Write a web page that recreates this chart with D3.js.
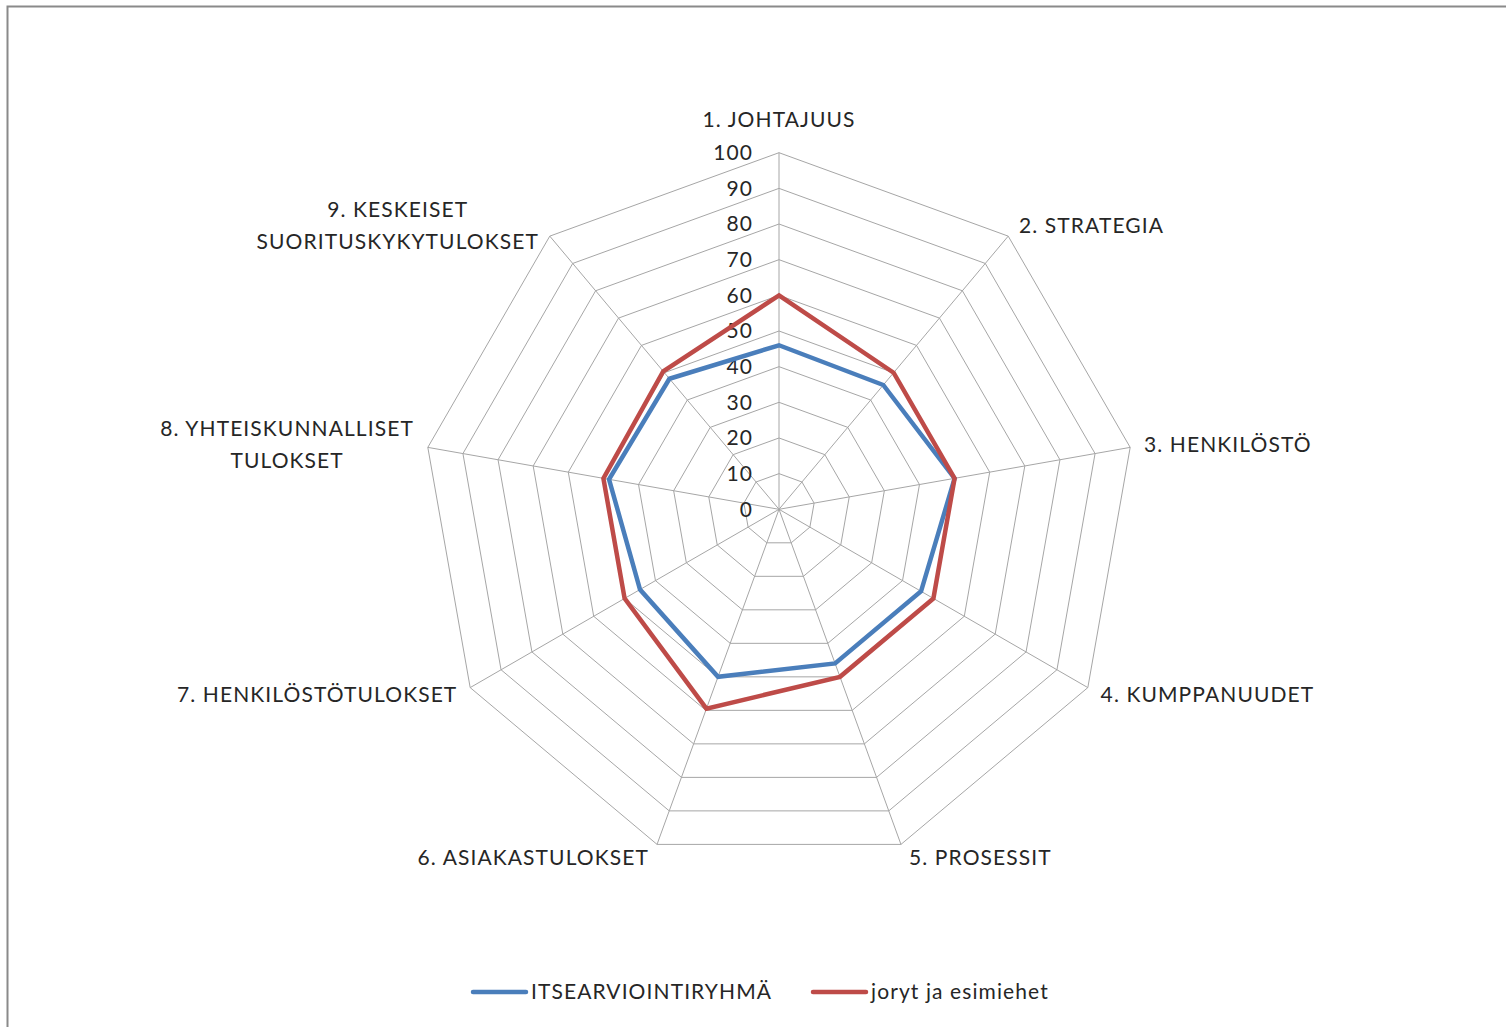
<!DOCTYPE html>
<html><head><meta charset="utf-8">
<script src="https://cdn.jsdelivr.net/npm/d3@7"></script>
<style>body{margin:0;background:#fff}svg{display:block}text{font-family:Lato,"Open Sans",sans-serif;fill:#262626;letter-spacing:1.1px}</style>
</head><body><svg id="c" width="1506" height="1027"></svg>
<script>
const categories = ["1. JOHTAJUUS","2. STRATEGIA","3. HENKILÖSTÖ","4. KUMPPANUUDET","5. PROSESSIT","6. ASIAKASTULOKSET","7. HENKILÖSTÖTULOKSET","8. YHTEISKUNNALLISET TULOKSET","9. KESKEISET SUORITUSKYKYTULOKSET"];
const seriesNames = ["ITSEARVIOINTIRYHMÄ","joryt ja esimiehet"];
const itsearviointi = [46,45.5,50,46,46,50,45,48.4,47.8];
const joryt = [60,50,50,50,50,59.5,50,50,50.5];
const ticks = [0,10,20,30,40,50,60,70,80,90,100];
const colors = ["#4a7ebb","#be4b48"];

const svg = d3.select("#c");
const cx = 779, cy = 509.3, R = 356.6;
const r = d3.scaleLinear().domain([0,100]).range([0,R]);
const ang = d3.scaleLinear().domain([0,categories.length]).range([0,2*Math.PI]);
const pt = (i,v)=>[cx + r(v)*Math.sin(ang(i)), cy - r(v)*Math.cos(ang(i))];

// frame
svg.append("rect").attr("x",7.5).attr("y",6.5).attr("width",1600).attr("height",1100)
  .attr("fill","none").attr("stroke","#8a8a8a").attr("stroke-width",2);

const grid = svg.append("g").attr("fill","none").attr("stroke","#a6a6a6").attr("stroke-width",1);
ticks.filter(t=>t>0).forEach(t=>{
  grid.append("path").attr("d", d3.line()(categories.map((c,i)=>pt(i,t))) + "Z");
});
categories.forEach((c,i)=>{
  const [x,y]=pt(i,100);
  grid.append("line").attr("x1",cx).attr("y1",cy).attr("x2",x).attr("y2",y);
});

// tick labels
svg.append("g").selectAll("text").data(ticks).join("text")
  .attr("x",cx-26).attr("y",d=>cy-r(d)).attr("dy","0.35em").attr("text-anchor","end")
  .attr("font-size",21).text(d=>d);

// series
const line = d3.line();
[itsearviointi, joryt].forEach((s,k)=>{
  svg.append("path").attr("d", line(s.map((v,i)=>pt(i,v)))+"Z")
    .attr("fill","none").attr("stroke",colors[k]).attr("stroke-width",4.5).attr("stroke-linejoin","miter");
});

// category labels
const lg = svg.append("g").attr("font-size",21);
categories.forEach((c,i)=>{
  const [vx,vy]=pt(i,100);
  const s=Math.sin(ang(i)), co=Math.cos(ang(i));
  const toks=c.split(" ");
  const lines = toks.length>2 ? [toks.slice(0,-1).join(" "), toks[toks.length-1]] : [c];
  const off = 5 + 9*Math.abs(s);
  let x, anchor;
  if (Math.abs(s)<0.01){ x=vx; anchor="middle"; }
  else if (s>0){ x=vx+off; anchor="start"; }
  else { x=vx-off; anchor="end"; }
  const yc = Math.abs(s)<0.01 ? vy-33 : vy - co*14;
  const lh=32;
  const t = lg.append("text").attr("text-anchor","middle");
  lines.forEach((l,j)=>{
    t.append("tspan").attr("x",0).attr("y", yc + (j-(lines.length-1)/2)*lh).attr("dy","0.35em").text(l);
  });
  const w = t.node().getBBox().width;
  let xc = anchor==="middle"? x : anchor==="start" ? x + w/2 : x - w/2;
  t.selectAll("tspan").attr("x",xc);
});

// legend
const leg = svg.append("g").attr("font-size",21);
const legX=[473,813];
seriesNames.forEach((n,k)=>{
  leg.append("line").attr("x1",legX[k]).attr("x2",legX[k]+53).attr("y1",992).attr("y2",992)
    .attr("stroke",colors[k]).attr("stroke-width",4.5).attr("stroke-linecap","round");
  leg.append("text").attr("x",legX[k]+58).attr("y",992).attr("dy","0.35em").text(n);
});
</script></body></html>
